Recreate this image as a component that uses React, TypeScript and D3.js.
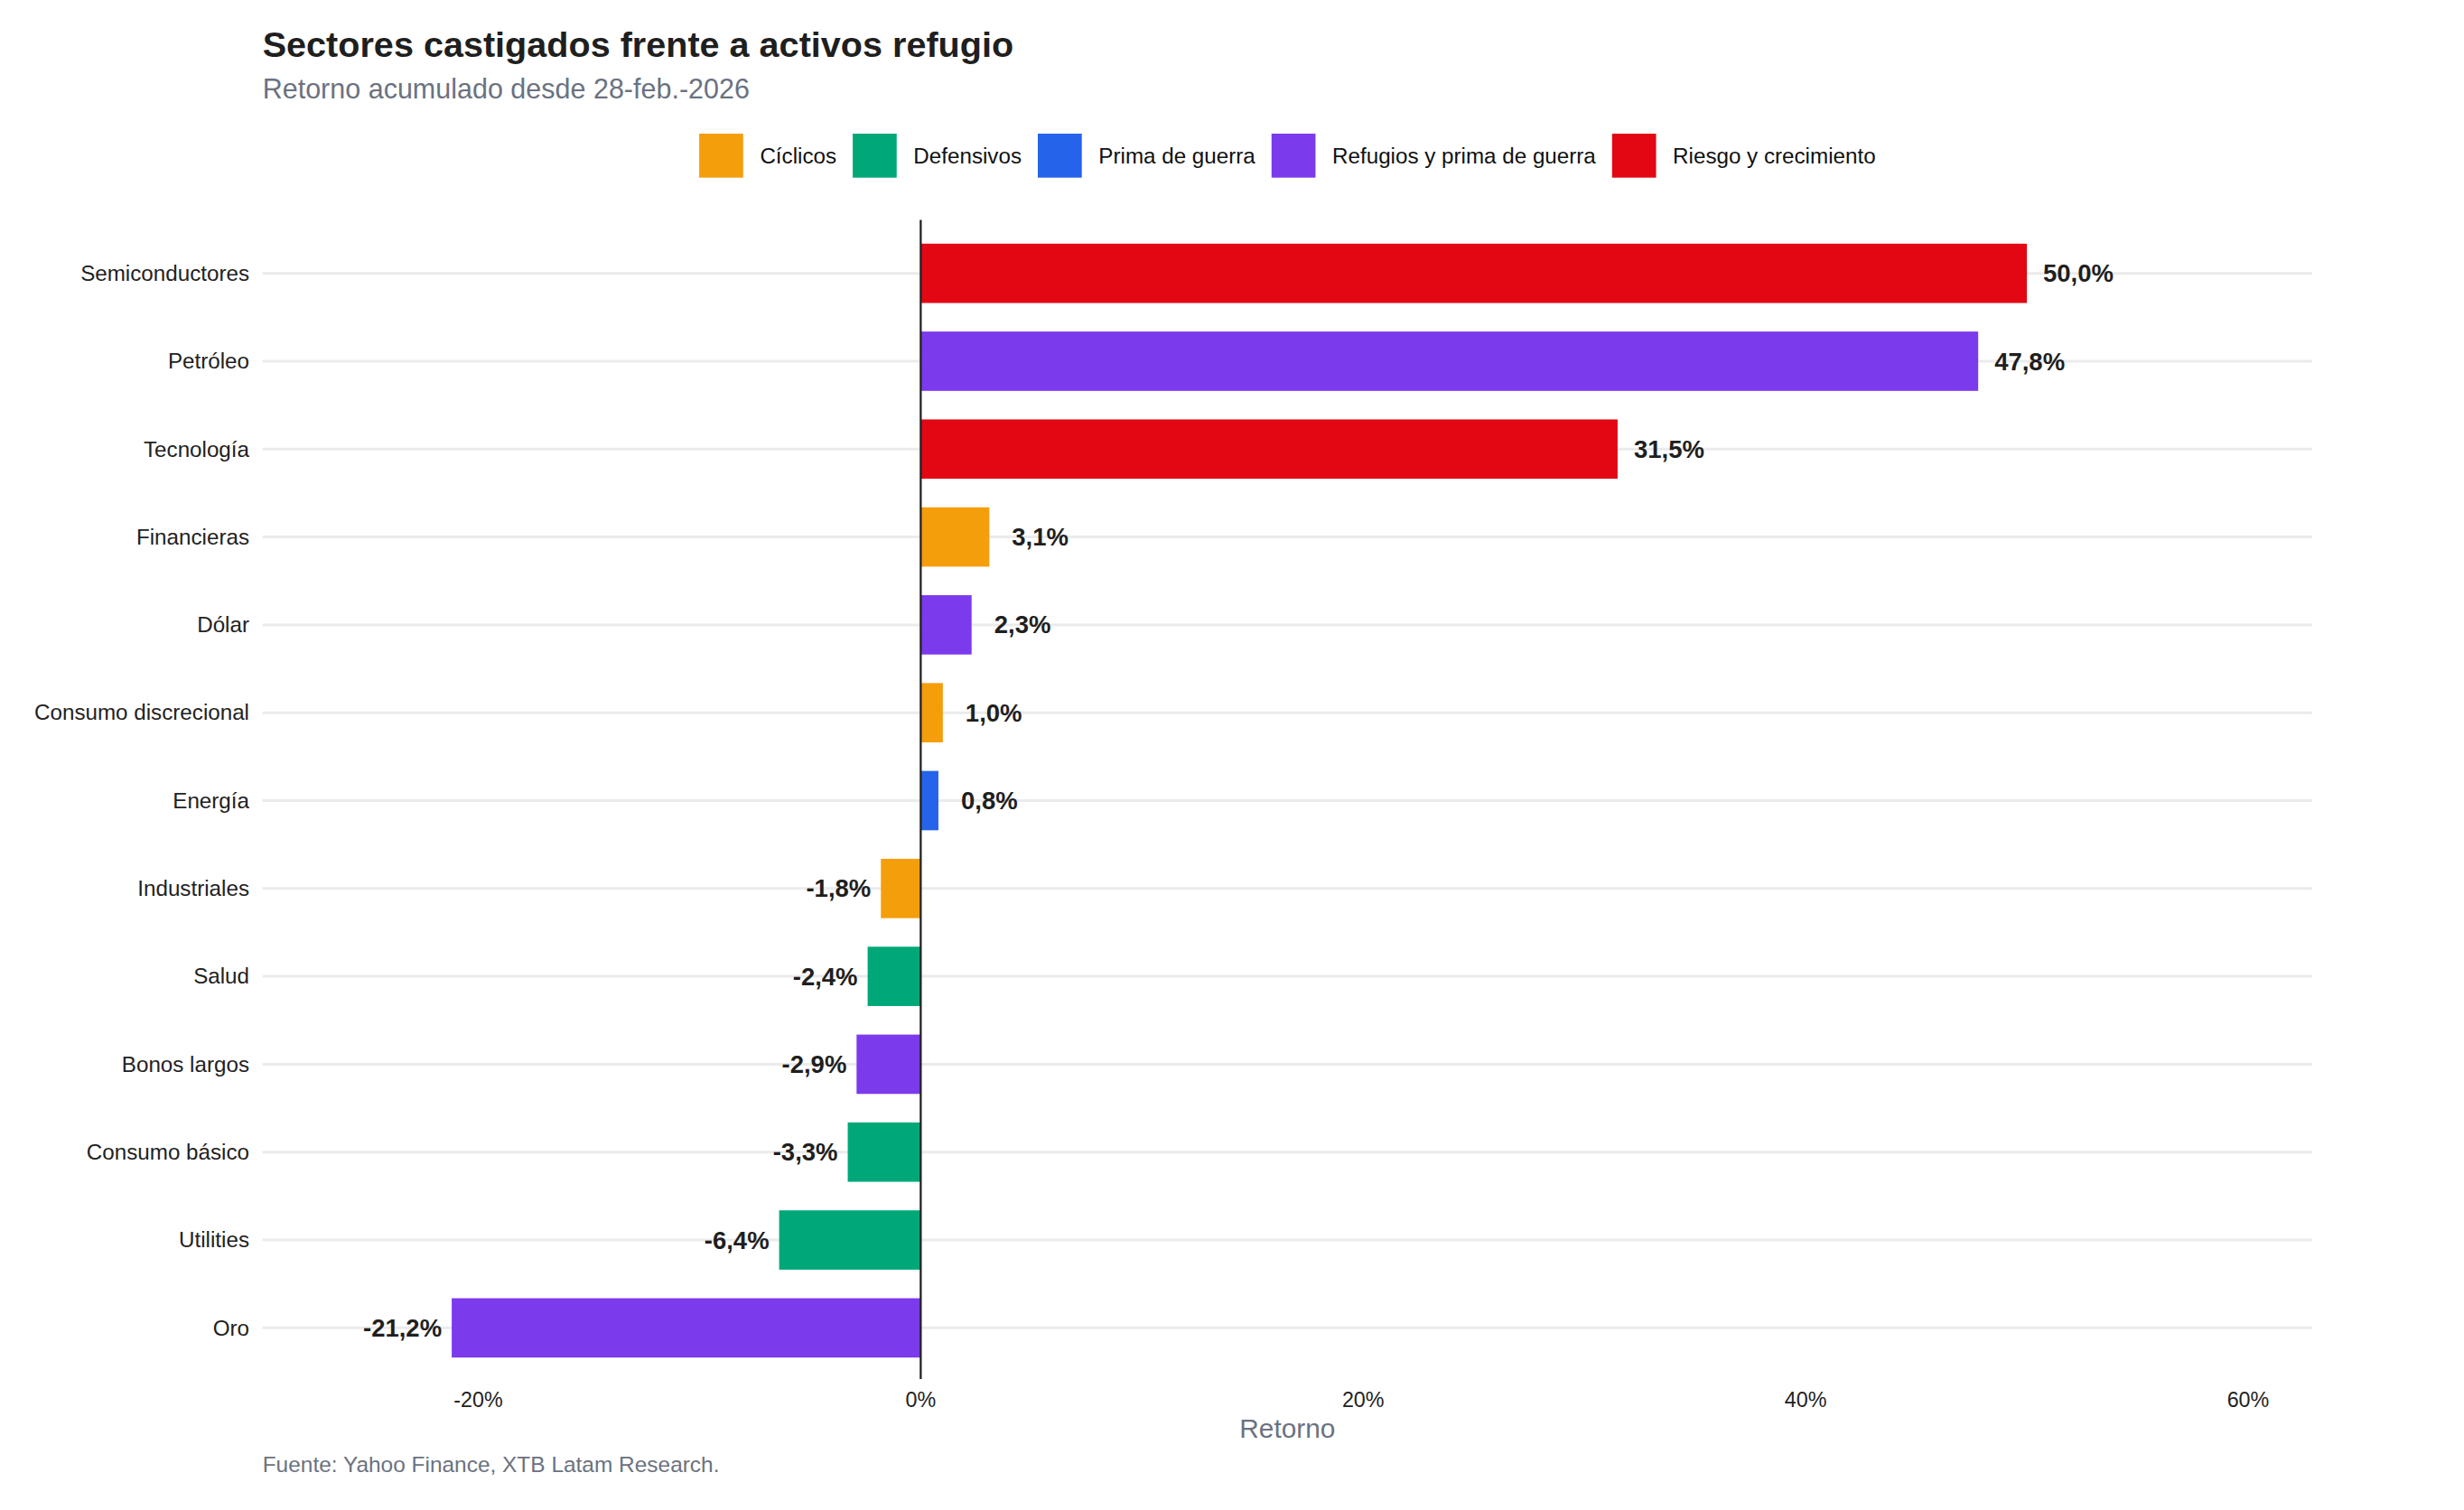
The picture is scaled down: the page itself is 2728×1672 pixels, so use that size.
import React, { useEffect, useRef } from "react";
import * as d3 from "d3";

const sectors = [
  "Semiconductores",
  "Petróleo",
  "Tecnología",
  "Financieras",
  "Dólar",
  "Consumo discrecional",
  "Energía",
  "Industriales",
  "Salud",
  "Bonos largos",
  "Consumo básico",
  "Utilities",
  "Oro",
];
const returns = [50.0, 47.8, 31.5, 3.1, 2.3, 1.0, 0.8, -1.8, -2.4, -2.9, -3.3, -6.4, -21.2];
const groups = [
  "Riesgo y crecimiento",
  "Refugios y prima de guerra",
  "Riesgo y crecimiento",
  "Cíclicos",
  "Refugios y prima de guerra",
  "Cíclicos",
  "Prima de guerra",
  "Cíclicos",
  "Defensivos",
  "Refugios y prima de guerra",
  "Defensivos",
  "Defensivos",
  "Refugios y prima de guerra",
];
const groupNames = [
  "Cíclicos",
  "Defensivos",
  "Prima de guerra",
  "Refugios y prima de guerra",
  "Riesgo y crecimiento",
];
const groupColors = ["#f59e0b", "#00a878", "#2563eb", "#7c3aed", "#e30613"];
const xTicks = [-20, 0, 20, 40, 60];

const FONT = "'Liberation Sans', Arial, Helvetica, sans-serif";
const W = 2728;
const H = 1672;

const fmtPct = (v: number) => `${v.toFixed(1).replace(".", ",")}%`;

const SectorChart = () => {
  const svgRef = useRef<SVGSVGElement>(null);

  useEffect(() => {
    const svg = d3.select(svgRef.current).attr("width", W).attr("height", H);
    svg.selectAll("*").remove();

    const panel = { left: 290.7, right: 2560, top: 243.5, bottom: 1527 };

    const x = d3.scaleLinear().domain([-29.75, 62.9]).range([panel.left, panel.right]);
    const y = d3
      .scaleBand<string>()
      .domain(sectors)
      .range([254, 1519])
      .paddingInner(0.325)
      .paddingOuter(0.1625);
    const color = d3.scaleOrdinal<string, string>().domain(groupNames).range(groupColors);

    const rows = sectors.map((s, i) => ({ sector: s, value: returns[i], group: groups[i] }));

    svg.append("rect").attr("width", W).attr("height", H).attr("fill", "#ffffff");

    // titles
    svg
      .append("text")
      .attr("x", panel.left)
      .attr("y", 63)
      .attr("font-family", FONT)
      .attr("font-weight", "bold")
      .attr("font-size", 39.6)
      .attr("fill", "#1f1f1f")
      .text("Sectores castigados frente a activos refugio");
    svg
      .append("text")
      .attr("x", panel.left)
      .attr("y", 109)
      .attr("font-family", FONT)
      .attr("font-size", 30.5)
      .attr("fill", "#6b7280")
      .text("Retorno acumulado desde 28-feb.-2026");

    // legend, centred over the panel
    const keySize = 48.7;
    const keyGap = 18.6;
    const itemGap = 18;
    const legend = svg.append("g");
    let lx = 0;
    groupNames.forEach((name) => {
      const item = legend.append("g").attr("transform", `translate(${lx},0)`);
      item
        .append("rect")
        .attr("y", 148)
        .attr("width", keySize)
        .attr("height", keySize)
        .attr("fill", color(name));
      const t = item
        .append("text")
        .attr("x", keySize + keyGap)
        .attr("y", 181)
        .attr("font-family", FONT)
        .attr("font-size", 24.2)
        .attr("fill", "#111111")
        .text(name);
      const tw = (t.node() as SVGTextElement).getComputedTextLength();
      lx += keySize + keyGap + tw + itemGap;
    });
    const legendWidth = lx - itemGap;
    legend.attr("transform", `translate(${(panel.left + panel.right) / 2 - legendWidth / 2},0)`);

    // horizontal gridlines
    svg
      .append("g")
      .selectAll("line")
      .data(sectors)
      .join("line")
      .attr("x1", panel.left)
      .attr("x2", panel.right)
      .attr("y1", (d) => y(d)! + y.bandwidth() / 2)
      .attr("y2", (d) => y(d)! + y.bandwidth() / 2)
      .attr("stroke", "#ebebeb")
      .attr("stroke-width", 3);

    // category labels
    svg
      .append("g")
      .selectAll("text")
      .data(sectors)
      .join("text")
      .attr("x", 276)
      .attr("y", (d) => y(d)! + y.bandwidth() / 2 + 8.3)
      .attr("text-anchor", "end")
      .attr("font-family", FONT)
      .attr("font-size", 24.2)
      .attr("fill", "#222222")
      .text((d) => d);

    // bars
    svg
      .append("g")
      .selectAll("rect")
      .data(rows)
      .join("rect")
      .attr("x", (d) => x(Math.min(0, d.value)))
      .attr("y", (d) => y(d.sector)!)
      .attr("width", (d) => Math.abs(x(d.value) - x(0)))
      .attr("height", y.bandwidth())
      .attr("fill", (d) => color(d.group));

    // zero line
    svg
      .append("line")
      .attr("x1", x(0))
      .attr("x2", x(0))
      .attr("y1", panel.top)
      .attr("y2", panel.bottom)
      .attr("stroke", "#222222")
      .attr("stroke-width", 2.3);

    // value labels; short bars get a little more room
    svg
      .append("g")
      .selectAll("text")
      .data(rows)
      .join("text")
      .attr("x", (d) =>
        d.value >= 0 ? x(d.value) + (d.value >= 10 ? 18 : 25) : x(d.value) - 11
      )
      .attr("y", (d) => y(d.sector)! + y.bandwidth() / 2 + 9.6)
      .attr("text-anchor", (d) => (d.value >= 0 ? "start" : "end"))
      .attr("font-family", FONT)
      .attr("font-weight", "bold")
      .attr("font-size", 27.5)
      .attr("fill", "#1f1f1f")
      .text((d) => fmtPct(d.value));

    // x tick labels
    svg
      .append("g")
      .selectAll("text")
      .data(xTicks)
      .join("text")
      .attr("x", (d) => x(d))
      .attr("y", 1558.3)
      .attr("text-anchor", "middle")
      .attr("font-family", FONT)
      .attr("font-size", 23.3)
      .attr("fill", "#222222")
      .text((d) => `${d}%`);

    // axis title
    svg
      .append("text")
      .attr("x", (panel.left + panel.right) / 2)
      .attr("y", 1591.7)
      .attr("text-anchor", "middle")
      .attr("font-family", FONT)
      .attr("font-size", 29.8)
      .attr("fill", "#6b7280")
      .text("Retorno");

    // caption
    svg
      .append("text")
      .attr("x", panel.left)
      .attr("y", 1630)
      .attr("font-family", FONT)
      .attr("font-size", 24.45)
      .attr("fill", "#6b7280")
      .text("Fuente: Yahoo Finance, XTB Latam Research.");
  }, []);

  return <svg ref={svgRef} style={{ display: "block" }}></svg>;
};

export default function App() {
  return (
    <div style={{ margin: -8 }}>
      <SectorChart />
    </div>
  );
}
